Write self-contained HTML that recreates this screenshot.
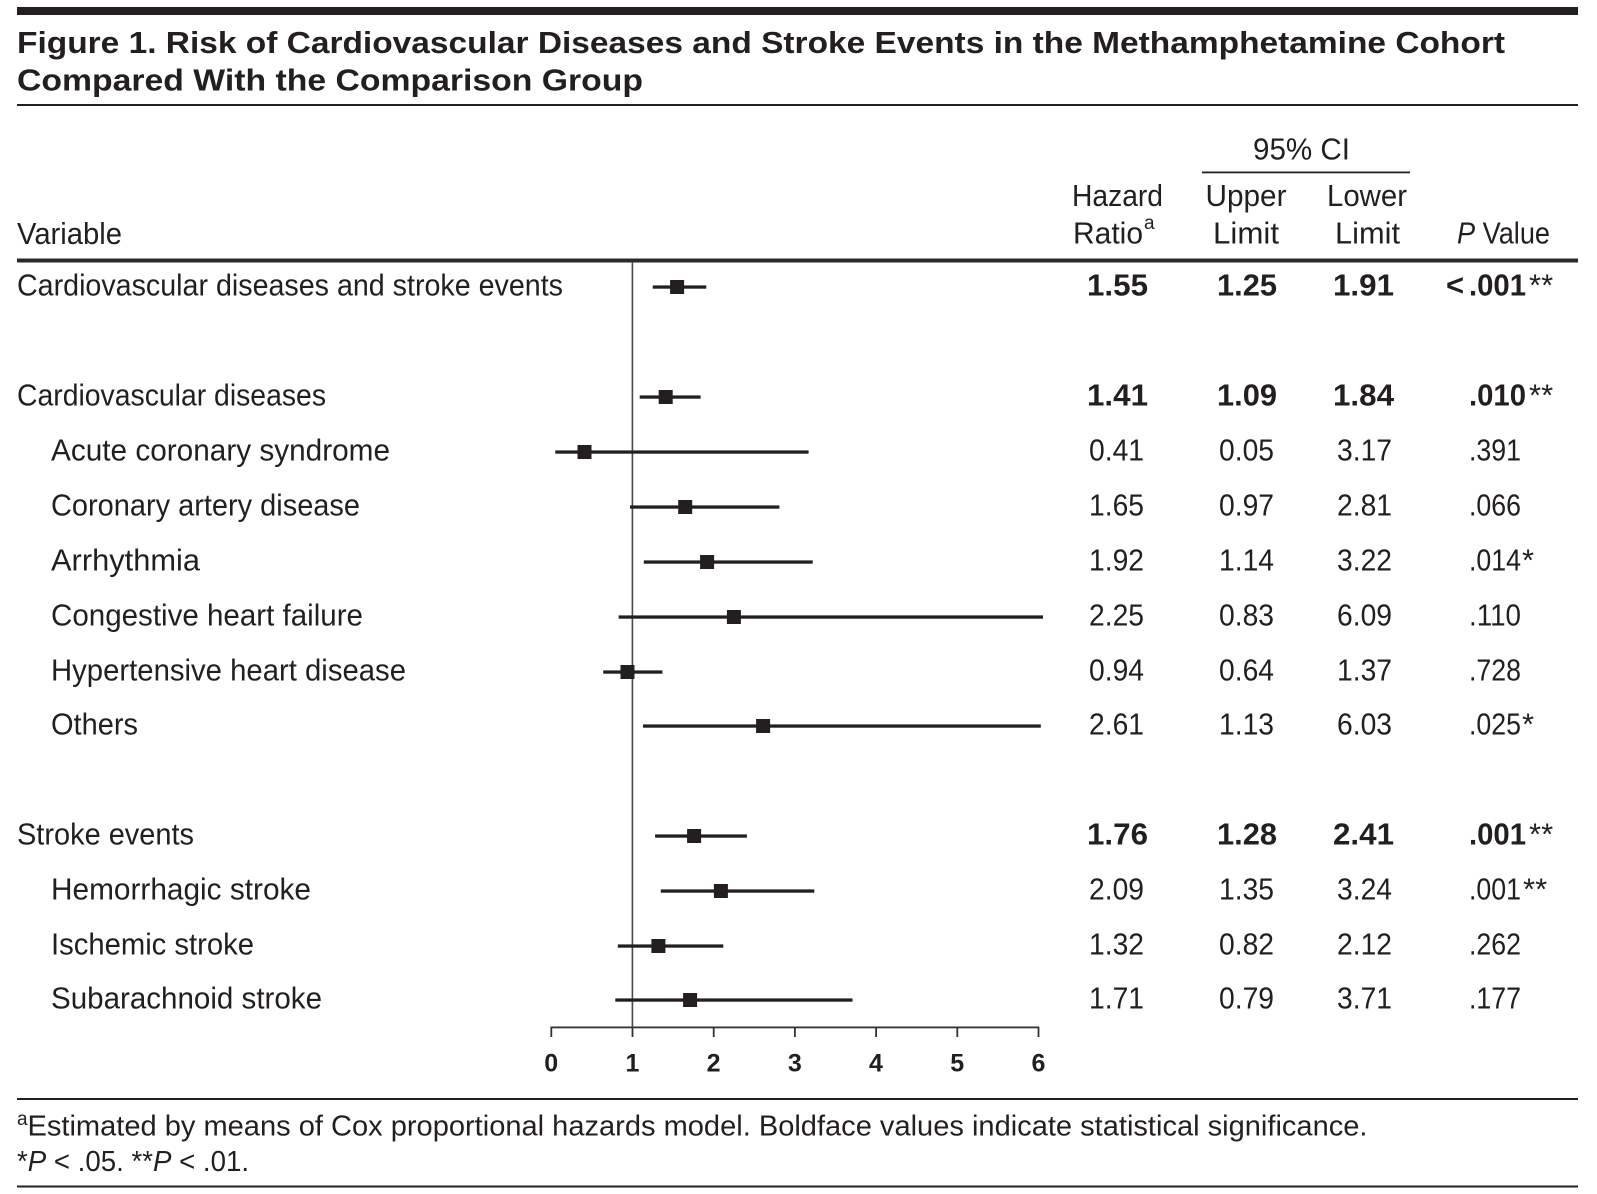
<!DOCTYPE html>
<html>
<head>
<meta charset="utf-8">
<style>
  html,body{margin:0;padding:0;background:#fff;}
  svg{display:block;}
  text{font-family:"Liberation Sans", Arial, sans-serif; fill:#231f20;}
  .lbl{font-size:31px;}
  .num{font-size:31px;}
  .b{font-weight:bold;}
  .hdr{font-size:31px;}
  .tick{font-size:25px;font-weight:bold;}
</style>
</head>
<body>
<svg width="1597" height="1194" viewBox="0 0 1597 1194" xmlns="http://www.w3.org/2000/svg">
  <rect x="0" y="0" width="1597" height="1194" fill="#fff"/>

  <!-- top bar -->
  <rect x="17" y="7" width="1561" height="8" fill="#231f20"/>

  <!-- title -->
  <text x="17" y="53" font-size="31" font-weight="bold" textLength="1488" lengthAdjust="spacingAndGlyphs">Figure 1. Risk of Cardiovascular Diseases and Stroke Events in the Methamphetamine Cohort</text>
  <text x="17" y="90.5" font-size="31" font-weight="bold" textLength="626" lengthAdjust="spacingAndGlyphs">Compared With the Comparison Group</text>
  <rect x="17" y="104" width="1561" height="2" fill="#231f20"/>

  <!-- header -->
  <text class="hdr" x="1253" y="159.5" textLength="97" lengthAdjust="spacingAndGlyphs">95% CI</text>
  <rect x="1202" y="171.5" width="208" height="1.8" fill="#231f20"/>

  <text class="hdr" x="1072" y="206" textLength="91" lengthAdjust="spacingAndGlyphs">Hazard</text>
  <text class="hdr" x="1073" y="243.5" textLength="70" lengthAdjust="spacingAndGlyphs">Ratio</text>
  <text x="1144" y="229" font-size="19">a</text>

  <text class="hdr" x="1205.5" y="206" textLength="81" lengthAdjust="spacingAndGlyphs">Upper</text>
  <text class="hdr" x="1213" y="243.5" textLength="66" lengthAdjust="spacingAndGlyphs">Limit</text>

  <text class="hdr" x="1327" y="206" textLength="80" lengthAdjust="spacingAndGlyphs">Lower</text>
  <text class="hdr" x="1335" y="243.5" textLength="65" lengthAdjust="spacingAndGlyphs">Limit</text>

  <text class="hdr" x="1457" y="243.5" textLength="93" lengthAdjust="spacingAndGlyphs"><tspan font-style="italic">P</tspan> Value</text>

  <text class="hdr" x="17" y="244" textLength="105" lengthAdjust="spacingAndGlyphs">Variable</text>

  <rect x="17" y="258.5" width="1561" height="4" fill="#2a2a2a"/>

  <!-- reference line at HR=1 -->
  <rect x="631.6" y="262" width="1.6" height="766" fill="#4a4a4a"/>

  <!-- axis -->
  <rect x="550.5" y="1026.5" width="488.6" height="1.8" fill="#333"/>
  <g fill="#333">
    <rect x="550.4" y="1027" width="1.8" height="10"/>
    <rect x="631.6" y="1027" width="1.8" height="10"/>
    <rect x="712.8" y="1027" width="1.8" height="10"/>
    <rect x="794.0" y="1027" width="1.8" height="10"/>
    <rect x="875.2" y="1027" width="1.8" height="10"/>
    <rect x="956.4" y="1027" width="1.8" height="10"/>
    <rect x="1037.6" y="1027" width="1.8" height="10"/>
  </g>
  <text class="tick" x="551.2" y="1071.5" text-anchor="middle">0</text>
  <text class="tick" x="632.4" y="1071.5" text-anchor="middle">1</text>
  <text class="tick" x="713.6" y="1071.5" text-anchor="middle">2</text>
  <text class="tick" x="794.8" y="1071.5" text-anchor="middle">3</text>
  <text class="tick" x="876" y="1071.5" text-anchor="middle">4</text>
  <text class="tick" x="957.2" y="1071.5" text-anchor="middle">5</text>
  <text class="tick" x="1038.4" y="1071.5" text-anchor="middle">6</text>

  <!-- CI lines and squares -->
  <g fill="#231f20">
    <rect x="652.7" y="285.4" width="53.6" height="3.3"/>
    <rect x="670.1" y="280" width="14" height="14"/>

    <rect x="639.7" y="395.4" width="60.9" height="3.3"/>
    <rect x="658.7" y="390" width="14" height="14"/>

    <rect x="555.3" y="450.4" width="253.3" height="3.3"/>
    <rect x="577.5" y="445" width="14" height="14"/>

    <rect x="630.0" y="505.4" width="149.4" height="3.3"/>
    <rect x="678.2" y="500" width="14" height="14"/>

    <rect x="643.8" y="560.4" width="168.9" height="3.3"/>
    <rect x="700.1" y="555" width="14" height="14"/>

    <rect x="618.6" y="615.4" width="424.4" height="3.3"/>
    <rect x="726.9" y="610" width="14" height="14"/>

    <rect x="603.2" y="670.4" width="59.2" height="3.3"/>
    <rect x="620.5" y="665" width="14" height="14"/>

    <rect x="643.0" y="724.4" width="397.8" height="3.3"/>
    <rect x="756.1" y="719" width="14" height="14"/>

    <rect x="655.1" y="834.4" width="91.8" height="3.3"/>
    <rect x="687.1" y="829" width="14" height="14"/>

    <rect x="660.8" y="889.4" width="153.5" height="3.3"/>
    <rect x="713.9" y="884" width="14" height="14"/>

    <rect x="617.8" y="944.4" width="105.5" height="3.3"/>
    <rect x="651.4" y="939" width="14" height="14"/>

    <rect x="615.3" y="998.4" width="237.2" height="3.3"/>
    <rect x="683.1" y="993" width="14" height="14"/>
  </g>

  <!-- row labels -->
  <text class="lbl" x="17" y="295.5" textLength="546" lengthAdjust="spacingAndGlyphs">Cardiovascular diseases and stroke events</text>
  <text class="lbl" x="17" y="405.5" textLength="309" lengthAdjust="spacingAndGlyphs">Cardiovascular diseases</text>
  <text class="lbl" x="51" y="460.5" textLength="339" lengthAdjust="spacingAndGlyphs">Acute coronary syndrome</text>
  <text class="lbl" x="51" y="515.5" textLength="309" lengthAdjust="spacingAndGlyphs">Coronary artery disease</text>
  <text class="lbl" x="51" y="570.5" textLength="149" lengthAdjust="spacingAndGlyphs">Arrhythmia</text>
  <text class="lbl" x="51" y="625.5" textLength="312" lengthAdjust="spacingAndGlyphs">Congestive heart failure</text>
  <text class="lbl" x="51" y="680.5" textLength="355" lengthAdjust="spacingAndGlyphs">Hypertensive heart disease</text>
  <text class="lbl" x="51" y="734.5" textLength="87" lengthAdjust="spacingAndGlyphs">Others</text>
  <text class="lbl" x="17" y="844.5" textLength="177" lengthAdjust="spacingAndGlyphs">Stroke events</text>
  <text class="lbl" x="51" y="899.5" textLength="260" lengthAdjust="spacingAndGlyphs">Hemorrhagic stroke</text>
  <text class="lbl" x="51" y="954.5" textLength="203" lengthAdjust="spacingAndGlyphs">Ischemic stroke</text>
  <text class="lbl" x="51" y="1008.5" textLength="271" lengthAdjust="spacingAndGlyphs">Subarachnoid stroke</text>

  <!-- numbers: HR (1087..), Upper (1218..), Lower (1334..) -->
  <text class="num b" x="1087" y="295.5" textLength="61" lengthAdjust="spacingAndGlyphs">1.55</text>
  <text class="num b" x="1217" y="295.5" textLength="60" lengthAdjust="spacingAndGlyphs">1.25</text>
  <text class="num b" x="1333" y="295.5" textLength="61" lengthAdjust="spacingAndGlyphs">1.91</text>

  <text class="num b" x="1087" y="405.5" textLength="61" lengthAdjust="spacingAndGlyphs">1.41</text>
  <text class="num b" x="1217" y="405.5" textLength="60" lengthAdjust="spacingAndGlyphs">1.09</text>
  <text class="num b" x="1333" y="405.5" textLength="61" lengthAdjust="spacingAndGlyphs">1.84</text>

  <text class="num" x="1089" y="460.5" textLength="55" lengthAdjust="spacingAndGlyphs">0.41</text>
  <text class="num" x="1219" y="460.5" textLength="55" lengthAdjust="spacingAndGlyphs">0.05</text>
  <text class="num" x="1337" y="460.5" textLength="55" lengthAdjust="spacingAndGlyphs">3.17</text>

  <text class="num" x="1089" y="515.5" textLength="55" lengthAdjust="spacingAndGlyphs">1.65</text>
  <text class="num" x="1219" y="515.5" textLength="55" lengthAdjust="spacingAndGlyphs">0.97</text>
  <text class="num" x="1337" y="515.5" textLength="55" lengthAdjust="spacingAndGlyphs">2.81</text>

  <text class="num" x="1089" y="570.5" textLength="55" lengthAdjust="spacingAndGlyphs">1.92</text>
  <text class="num" x="1219" y="570.5" textLength="55" lengthAdjust="spacingAndGlyphs">1.14</text>
  <text class="num" x="1337" y="570.5" textLength="55" lengthAdjust="spacingAndGlyphs">3.22</text>

  <text class="num" x="1089" y="625.5" textLength="55" lengthAdjust="spacingAndGlyphs">2.25</text>
  <text class="num" x="1219" y="625.5" textLength="55" lengthAdjust="spacingAndGlyphs">0.83</text>
  <text class="num" x="1337" y="625.5" textLength="55" lengthAdjust="spacingAndGlyphs">6.09</text>

  <text class="num" x="1089" y="680.5" textLength="55" lengthAdjust="spacingAndGlyphs">0.94</text>
  <text class="num" x="1219" y="680.5" textLength="55" lengthAdjust="spacingAndGlyphs">0.64</text>
  <text class="num" x="1337" y="680.5" textLength="55" lengthAdjust="spacingAndGlyphs">1.37</text>

  <text class="num" x="1089" y="734.5" textLength="55" lengthAdjust="spacingAndGlyphs">2.61</text>
  <text class="num" x="1219" y="734.5" textLength="55" lengthAdjust="spacingAndGlyphs">1.13</text>
  <text class="num" x="1337" y="734.5" textLength="55" lengthAdjust="spacingAndGlyphs">6.03</text>

  <text class="num b" x="1087" y="844.5" textLength="61" lengthAdjust="spacingAndGlyphs">1.76</text>
  <text class="num b" x="1217" y="844.5" textLength="60" lengthAdjust="spacingAndGlyphs">1.28</text>
  <text class="num b" x="1333" y="844.5" textLength="61" lengthAdjust="spacingAndGlyphs">2.41</text>

  <text class="num" x="1089" y="899.5" textLength="55" lengthAdjust="spacingAndGlyphs">2.09</text>
  <text class="num" x="1219" y="899.5" textLength="55" lengthAdjust="spacingAndGlyphs">1.35</text>
  <text class="num" x="1337" y="899.5" textLength="55" lengthAdjust="spacingAndGlyphs">3.24</text>

  <text class="num" x="1089" y="954.5" textLength="55" lengthAdjust="spacingAndGlyphs">1.32</text>
  <text class="num" x="1219" y="954.5" textLength="55" lengthAdjust="spacingAndGlyphs">0.82</text>
  <text class="num" x="1337" y="954.5" textLength="55" lengthAdjust="spacingAndGlyphs">2.12</text>

  <text class="num" x="1089" y="1008.5" textLength="55" lengthAdjust="spacingAndGlyphs">1.71</text>
  <text class="num" x="1219" y="1008.5" textLength="55" lengthAdjust="spacingAndGlyphs">0.79</text>
  <text class="num" x="1337" y="1008.5" textLength="55" lengthAdjust="spacingAndGlyphs">3.71</text>

  <!-- P values -->
  <text class="num b" x="1446" y="295.5">&lt;</text>
  <text class="num b" x="1469" y="295.5" textLength="57" lengthAdjust="spacingAndGlyphs">.001</text>
  <text class="num" x="1529" y="295.5">**</text>

  <text class="num b" x="1469" y="405.5" textLength="57" lengthAdjust="spacingAndGlyphs">.010</text>
  <text class="num" x="1529" y="405.5">**</text>

  <text class="num" x="1469" y="460.5" textLength="52" lengthAdjust="spacingAndGlyphs">.391</text>
  <text class="num" x="1469" y="515.5" textLength="52" lengthAdjust="spacingAndGlyphs">.066</text>
  <text class="num" x="1469" y="570.5" textLength="52" lengthAdjust="spacingAndGlyphs">.014</text>
  <text class="num" x="1522" y="570.5">*</text>
  <text class="num" x="1469" y="625.5" textLength="52" lengthAdjust="spacingAndGlyphs">.110</text>
  <text class="num" x="1469" y="680.5" textLength="52" lengthAdjust="spacingAndGlyphs">.728</text>
  <text class="num" x="1469" y="734.5" textLength="52" lengthAdjust="spacingAndGlyphs">.025</text>
  <text class="num" x="1522" y="734.5">*</text>

  <text class="num b" x="1469" y="844.5" textLength="57" lengthAdjust="spacingAndGlyphs">.001</text>
  <text class="num" x="1529" y="844.5">**</text>

  <text class="num" x="1469" y="899.5" textLength="52" lengthAdjust="spacingAndGlyphs">.001</text>
  <text class="num" x="1523" y="899.5">**</text>
  <text class="num" x="1469" y="954.5" textLength="52" lengthAdjust="spacingAndGlyphs">.262</text>
  <text class="num" x="1469" y="1008.5" textLength="52" lengthAdjust="spacingAndGlyphs">.177</text>

  <!-- footer -->
  <rect x="17" y="1098" width="1561" height="2" fill="#231f20"/>
  <text x="17" y="1125" font-size="19">a</text>
  <text x="27.5" y="1135.5" font-size="29" textLength="1340" lengthAdjust="spacingAndGlyphs">Estimated by means of Cox proportional hazards model. Boldface values indicate statistical significance.</text>
  <text x="17" y="1171" font-size="29" textLength="232" lengthAdjust="spacingAndGlyphs">*<tspan font-style="italic">P</tspan> &lt; .05.  **<tspan font-style="italic">P</tspan> &lt; .01.</text>
  <rect x="17" y="1185.5" width="1561" height="2" fill="#231f20"/>
</svg>
</body>
</html>
